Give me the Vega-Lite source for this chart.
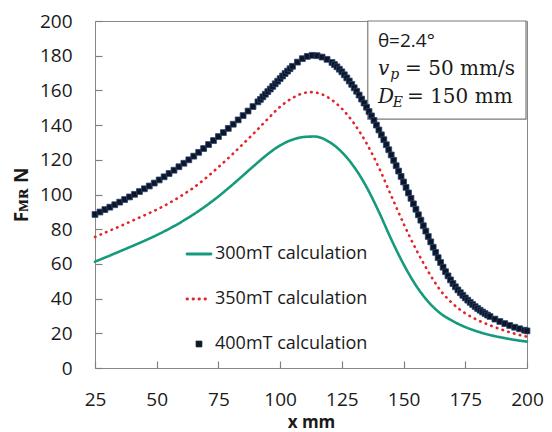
{
  "$schema": "https://vega.github.io/schema/vega-lite/v6.json",
  "width": 432,
  "height": 347,
  "autosize": "none",
  "padding": {"left": 95, "top": 21, "right": 25, "bottom": 64},
  "background": "white",
  "config": {
    "view": {"stroke": "#888888", "strokeWidth": 1},
    "axis": {
      "grid": false,
      "ticks": true,
      "domain": false,
      "tickColor": "#808080",
      "tickWidth": 1.2,
      "tickSize": 7,
      "offset": -7,
      "labelFont": "Open Sans",
      "labelFontSize": 19,
      "labelColor": "#1a1a1a",
      "labelOverlap": false,
      "labelFlush": false,
      "labelBound": false,
      "titleFont": "Open Sans",
      "titleFontWeight": "bold",
      "titleColor": "#1a1a1a"
    }
  },
  "datasets": {
    "curves": [
      {"x": 25, "y": 61.3, "s": "300mT calculation"},
      {"x": 30, "y": 64.2, "s": "300mT calculation"},
      {"x": 35, "y": 67.2, "s": "300mT calculation"},
      {"x": 40, "y": 70.2, "s": "300mT calculation"},
      {"x": 45, "y": 73.3, "s": "300mT calculation"},
      {"x": 50, "y": 76.6, "s": "300mT calculation"},
      {"x": 55, "y": 80.2, "s": "300mT calculation"},
      {"x": 60, "y": 84.2, "s": "300mT calculation"},
      {"x": 65, "y": 88.6, "s": "300mT calculation"},
      {"x": 70, "y": 93.5, "s": "300mT calculation"},
      {"x": 75, "y": 98.9, "s": "300mT calculation"},
      {"x": 80, "y": 104.8, "s": "300mT calculation"},
      {"x": 85, "y": 111.0, "s": "300mT calculation"},
      {"x": 90, "y": 117.3, "s": "300mT calculation"},
      {"x": 95, "y": 123.3, "s": "300mT calculation"},
      {"x": 100, "y": 128.3, "s": "300mT calculation"},
      {"x": 105, "y": 131.6, "s": "300mT calculation"},
      {"x": 110, "y": 133.2, "s": "300mT calculation"},
      {"x": 114, "y": 133.4, "s": "300mT calculation"},
      {"x": 120, "y": 130.2, "s": "300mT calculation"},
      {"x": 125, "y": 124.4, "s": "300mT calculation"},
      {"x": 130, "y": 115.8, "s": "300mT calculation"},
      {"x": 135, "y": 104.3, "s": "300mT calculation"},
      {"x": 140, "y": 90.0, "s": "300mT calculation"},
      {"x": 145, "y": 74.2, "s": "300mT calculation"},
      {"x": 150, "y": 59.8, "s": "300mT calculation"},
      {"x": 155, "y": 47.6, "s": "300mT calculation"},
      {"x": 160, "y": 38.2, "s": "300mT calculation"},
      {"x": 165, "y": 31.4, "s": "300mT calculation"},
      {"x": 170, "y": 27.0, "s": "300mT calculation"},
      {"x": 175, "y": 23.6, "s": "300mT calculation"},
      {"x": 180, "y": 21.0, "s": "300mT calculation"},
      {"x": 185, "y": 19.0, "s": "300mT calculation"},
      {"x": 190, "y": 17.5, "s": "300mT calculation"},
      {"x": 195, "y": 16.2, "s": "300mT calculation"},
      {"x": 200, "y": 15.2, "s": "300mT calculation"},
      {"x": 25, "y": 75.5, "s": "350mT calculation"},
      {"x": 30, "y": 78.6, "s": "350mT calculation"},
      {"x": 35, "y": 81.6, "s": "350mT calculation"},
      {"x": 40, "y": 84.8, "s": "350mT calculation"},
      {"x": 45, "y": 88.0, "s": "350mT calculation"},
      {"x": 50, "y": 91.3, "s": "350mT calculation"},
      {"x": 55, "y": 95.0, "s": "350mT calculation"},
      {"x": 60, "y": 99.3, "s": "350mT calculation"},
      {"x": 65, "y": 104.0, "s": "350mT calculation"},
      {"x": 70, "y": 109.6, "s": "350mT calculation"},
      {"x": 75, "y": 115.8, "s": "350mT calculation"},
      {"x": 80, "y": 122.3, "s": "350mT calculation"},
      {"x": 85, "y": 129.2, "s": "350mT calculation"},
      {"x": 90, "y": 136.2, "s": "350mT calculation"},
      {"x": 95, "y": 143.6, "s": "350mT calculation"},
      {"x": 100, "y": 150.6, "s": "350mT calculation"},
      {"x": 105, "y": 155.6, "s": "350mT calculation"},
      {"x": 110, "y": 158.6, "s": "350mT calculation"},
      {"x": 113, "y": 159.0, "s": "350mT calculation"},
      {"x": 115, "y": 158.6, "s": "350mT calculation"},
      {"x": 120, "y": 155.4, "s": "350mT calculation"},
      {"x": 125, "y": 149.5, "s": "350mT calculation"},
      {"x": 130, "y": 140.8, "s": "350mT calculation"},
      {"x": 135, "y": 129.5, "s": "350mT calculation"},
      {"x": 140, "y": 115.5, "s": "350mT calculation"},
      {"x": 145, "y": 99.3, "s": "350mT calculation"},
      {"x": 150, "y": 83.2, "s": "350mT calculation"},
      {"x": 155, "y": 68.5, "s": "350mT calculation"},
      {"x": 160, "y": 55.6, "s": "350mT calculation"},
      {"x": 165, "y": 44.6, "s": "350mT calculation"},
      {"x": 170, "y": 37.0, "s": "350mT calculation"},
      {"x": 175, "y": 31.5, "s": "350mT calculation"},
      {"x": 180, "y": 27.6, "s": "350mT calculation"},
      {"x": 185, "y": 24.6, "s": "350mT calculation"},
      {"x": 190, "y": 22.0, "s": "350mT calculation"},
      {"x": 195, "y": 19.8, "s": "350mT calculation"},
      {"x": 200, "y": 18.0, "s": "350mT calculation"},
      {"x": 25, "y": 88.5, "s": "400mT calculation"},
      {"x": 27, "y": 89.9, "s": "400mT calculation"},
      {"x": 29, "y": 91.3, "s": "400mT calculation"},
      {"x": 31, "y": 92.7, "s": "400mT calculation"},
      {"x": 33, "y": 94.1, "s": "400mT calculation"},
      {"x": 35, "y": 95.6, "s": "400mT calculation"},
      {"x": 37, "y": 97.1, "s": "400mT calculation"},
      {"x": 39, "y": 98.6, "s": "400mT calculation"},
      {"x": 41, "y": 100.1, "s": "400mT calculation"},
      {"x": 43, "y": 101.7, "s": "400mT calculation"},
      {"x": 45, "y": 103.3, "s": "400mT calculation"},
      {"x": 47, "y": 104.9, "s": "400mT calculation"},
      {"x": 49, "y": 106.6, "s": "400mT calculation"},
      {"x": 51, "y": 108.4, "s": "400mT calculation"},
      {"x": 53, "y": 110.2, "s": "400mT calculation"},
      {"x": 55, "y": 112.1, "s": "400mT calculation"},
      {"x": 57, "y": 114.0, "s": "400mT calculation"},
      {"x": 59, "y": 116.0, "s": "400mT calculation"},
      {"x": 61, "y": 118.0, "s": "400mT calculation"},
      {"x": 63, "y": 120.0, "s": "400mT calculation"},
      {"x": 65, "y": 122.1, "s": "400mT calculation"},
      {"x": 67, "y": 124.3, "s": "400mT calculation"},
      {"x": 69, "y": 126.5, "s": "400mT calculation"},
      {"x": 71, "y": 128.8, "s": "400mT calculation"},
      {"x": 73, "y": 131.1, "s": "400mT calculation"},
      {"x": 75, "y": 133.4, "s": "400mT calculation"},
      {"x": 77, "y": 135.7, "s": "400mT calculation"},
      {"x": 79, "y": 138.1, "s": "400mT calculation"},
      {"x": 81, "y": 140.5, "s": "400mT calculation"},
      {"x": 83, "y": 143.0, "s": "400mT calculation"},
      {"x": 85, "y": 145.5, "s": "400mT calculation"},
      {"x": 87, "y": 148.1, "s": "400mT calculation"},
      {"x": 89, "y": 150.7, "s": "400mT calculation"},
      {"x": 91, "y": 153.4, "s": "400mT calculation"},
      {"x": 92, "y": 154.8, "s": "400mT calculation"},
      {"x": 93, "y": 156.3, "s": "400mT calculation"},
      {"x": 94, "y": 157.8, "s": "400mT calculation"},
      {"x": 95, "y": 159.3, "s": "400mT calculation"},
      {"x": 96, "y": 160.8, "s": "400mT calculation"},
      {"x": 97, "y": 162.3, "s": "400mT calculation"},
      {"x": 98, "y": 163.8, "s": "400mT calculation"},
      {"x": 99, "y": 165.3, "s": "400mT calculation"},
      {"x": 100, "y": 166.8, "s": "400mT calculation"},
      {"x": 101, "y": 168.3, "s": "400mT calculation"},
      {"x": 102, "y": 169.7, "s": "400mT calculation"},
      {"x": 103, "y": 171.1, "s": "400mT calculation"},
      {"x": 104, "y": 172.5, "s": "400mT calculation"},
      {"x": 105, "y": 173.9, "s": "400mT calculation"},
      {"x": 107, "y": 176.3, "s": "400mT calculation"},
      {"x": 109, "y": 178.3, "s": "400mT calculation"},
      {"x": 111, "y": 179.6, "s": "400mT calculation"},
      {"x": 113, "y": 180.2, "s": "400mT calculation"},
      {"x": 115, "y": 180.0, "s": "400mT calculation"},
      {"x": 117, "y": 179.2, "s": "400mT calculation"},
      {"x": 119, "y": 177.9, "s": "400mT calculation"},
      {"x": 121, "y": 176.1, "s": "400mT calculation"},
      {"x": 122, "y": 174.9, "s": "400mT calculation"},
      {"x": 123, "y": 173.6, "s": "400mT calculation"},
      {"x": 124, "y": 172.2, "s": "400mT calculation"},
      {"x": 125, "y": 170.7, "s": "400mT calculation"},
      {"x": 126, "y": 169.0, "s": "400mT calculation"},
      {"x": 127, "y": 167.2, "s": "400mT calculation"},
      {"x": 128, "y": 165.4, "s": "400mT calculation"},
      {"x": 129, "y": 163.5, "s": "400mT calculation"},
      {"x": 130, "y": 161.5, "s": "400mT calculation"},
      {"x": 131, "y": 159.5, "s": "400mT calculation"},
      {"x": 132, "y": 157.3, "s": "400mT calculation"},
      {"x": 133, "y": 155.0, "s": "400mT calculation"},
      {"x": 134, "y": 152.7, "s": "400mT calculation"},
      {"x": 135, "y": 150.3, "s": "400mT calculation"},
      {"x": 136, "y": 147.8, "s": "400mT calculation"},
      {"x": 137, "y": 145.3, "s": "400mT calculation"},
      {"x": 138, "y": 142.7, "s": "400mT calculation"},
      {"x": 139, "y": 140.0, "s": "400mT calculation"},
      {"x": 140, "y": 137.2, "s": "400mT calculation"},
      {"x": 141, "y": 134.4, "s": "400mT calculation"},
      {"x": 142, "y": 131.6, "s": "400mT calculation"},
      {"x": 143, "y": 128.7, "s": "400mT calculation"},
      {"x": 144, "y": 125.8, "s": "400mT calculation"},
      {"x": 145, "y": 122.8, "s": "400mT calculation"},
      {"x": 146, "y": 119.7, "s": "400mT calculation"},
      {"x": 147, "y": 116.6, "s": "400mT calculation"},
      {"x": 148, "y": 113.5, "s": "400mT calculation"},
      {"x": 149, "y": 110.4, "s": "400mT calculation"},
      {"x": 150, "y": 107.2, "s": "400mT calculation"},
      {"x": 151, "y": 104.1, "s": "400mT calculation"},
      {"x": 152, "y": 100.9, "s": "400mT calculation"},
      {"x": 153, "y": 97.8, "s": "400mT calculation"},
      {"x": 154, "y": 94.6, "s": "400mT calculation"},
      {"x": 155, "y": 91.5, "s": "400mT calculation"},
      {"x": 156, "y": 88.3, "s": "400mT calculation"},
      {"x": 157, "y": 85.2, "s": "400mT calculation"},
      {"x": 158, "y": 82.0, "s": "400mT calculation"},
      {"x": 159, "y": 78.9, "s": "400mT calculation"},
      {"x": 160, "y": 75.8, "s": "400mT calculation"},
      {"x": 161, "y": 72.7, "s": "400mT calculation"},
      {"x": 162, "y": 69.6, "s": "400mT calculation"},
      {"x": 163, "y": 66.6, "s": "400mT calculation"},
      {"x": 164, "y": 63.6, "s": "400mT calculation"},
      {"x": 165, "y": 60.8, "s": "400mT calculation"},
      {"x": 166, "y": 58.1, "s": "400mT calculation"},
      {"x": 167, "y": 55.5, "s": "400mT calculation"},
      {"x": 168, "y": 53.1, "s": "400mT calculation"},
      {"x": 169, "y": 50.8, "s": "400mT calculation"},
      {"x": 170, "y": 48.7, "s": "400mT calculation"},
      {"x": 171, "y": 46.8, "s": "400mT calculation"},
      {"x": 172, "y": 45.0, "s": "400mT calculation"},
      {"x": 173, "y": 43.4, "s": "400mT calculation"},
      {"x": 174, "y": 41.9, "s": "400mT calculation"},
      {"x": 175, "y": 40.4, "s": "400mT calculation"},
      {"x": 176, "y": 39.1, "s": "400mT calculation"},
      {"x": 177, "y": 37.8, "s": "400mT calculation"},
      {"x": 178, "y": 36.6, "s": "400mT calculation"},
      {"x": 179, "y": 35.4, "s": "400mT calculation"},
      {"x": 180, "y": 34.3, "s": "400mT calculation"},
      {"x": 181, "y": 33.3, "s": "400mT calculation"},
      {"x": 182, "y": 32.3, "s": "400mT calculation"},
      {"x": 183, "y": 31.4, "s": "400mT calculation"},
      {"x": 184, "y": 30.5, "s": "400mT calculation"},
      {"x": 185, "y": 29.7, "s": "400mT calculation"},
      {"x": 187, "y": 28.2, "s": "400mT calculation"},
      {"x": 189, "y": 26.8, "s": "400mT calculation"},
      {"x": 191, "y": 25.6, "s": "400mT calculation"},
      {"x": 193, "y": 24.5, "s": "400mT calculation"},
      {"x": 195, "y": 23.5, "s": "400mT calculation"},
      {"x": 197, "y": 22.6, "s": "400mT calculation"},
      {"x": 199, "y": 21.8, "s": "400mT calculation"},
      {"x": 200, "y": 21.4, "s": "400mT calculation"}
    ]
  },
  "encoding": {
    "x": {"field": "x", "type": "quantitative", "scale": {"domain": [25, 200], "nice": false, "zero": false},
      "axis": {"values": [25, 50, 75, 100, 125, 150, 175, 200], "labelOverlap": false, "labelPadding": 22, "title": "x mm", "titleFontSize": 17, "titlePadding": 5}},
    "y": {"field": "y", "type": "quantitative", "scale": {"domain": [0, 200], "nice": false},
      "axis": {"values": [0, 20, 40, 60, 80, 100, 120, 140, 160, 180, 200], "labelOverlap": false, "labelPadding": 23, "title": "Fᴍʀ N", "titleFontSize": 19, "titlePadding": 8}}
  },
  "layer": [
    {
      "data": {"values": [{"x": 135.5, "x2": 199.6, "y": 200, "y2": 143.5}]},
      "mark": {"type": "rect", "fill": "white", "stroke": "#7a7a7a", "strokeWidth": 1.2},
      "encoding": {
        "x2": {"field": "x2"},
        "y2": {"field": "y2"}
      }
    },
    {
      "data": {"name": "curves"},
      "transform": [{"filter": "datum.s !== '400mT calculation'"}],
      "mark": {"type": "line", "strokeWidth": 2.6, "strokeCap": "round", "interpolate": "monotone"},
      "encoding": {
        "color": {
          "field": "s", "type": "nominal",
          "scale": {"domain": ["300mT calculation", "350mT calculation", "400mT calculation"], "range": ["#169a7c", "#e3242b", "#0d1526"]},
          "legend": {
            "orient": "none", "legendX": 95, "legendY": 224, "title": null,
            "labelFont": "Open Sans", "labelFontSize": 18, "labelColor": "#1a1a1a",
            "rowPadding": 27, "symbolSize": 576, "labelOffset": 7, "padding": 0,
            "encode": {
              "symbols": {
                "update": {
                  "shape": {"signal": "datum.value === '400mT calculation' ? 'square' : 'stroke'"},
                  "size": {"signal": "datum.value === '400mT calculation' ? 30 : 576"},
                  "strokeDash": {"signal": "datum.value === '350mT calculation' ? [0.5, 5.5] : [1, 0]"},
                  "strokeWidth": {"signal": "datum.value === '400mT calculation' ? 0.8 : 2.8"},
                  "strokeCap": {"value": "round"},
                  "fill": {"signal": "datum.value === '400mT calculation' ? '#0d1526' : 'transparent'"},
                  "fillOpacity": {"value": 1},
                  "opacity": {"value": 1},
                  "stroke": {"signal": "datum.value === '300mT calculation' ? '#169a7c' : datum.value === '350mT calculation' ? '#e3242b' : '#2a4470'"}
                }
              }
            }
          }
        },
        "strokeDash": {
          "field": "s", "type": "nominal",
          "scale": {"domain": ["300mT calculation", "350mT calculation"], "range": [[1, 0], [0.5, 5.5]]},
          "legend": null
        }
      }
    },
    {
      "data": {"name": "curves"},
      "transform": [{"filter": "datum.s === '400mT calculation'"}],
      "mark": {"type": "point", "shape": "square", "filled": true, "size": 34, "opacity": 1, "stroke": "#2a4470", "strokeWidth": 0.8},
      "encoding": {
        "color": {"field": "s", "type": "nominal"}
      }
    },
    {
      "data": {"values": [{"x": 139.6, "y": 185.2, "t": "θ=2.4°"}]},
      "mark": {"type": "text", "font": "Open Sans", "fontSize": 19, "align": "left", "baseline": "alphabetic", "color": "#1a1a1a"},
      "encoding": {"text": {"field": "t"}}
    },
    {
      "data": {"values": [{"x": 139.6, "y": 168.9, "t": "v"}, {"x": 139.6, "y": 152.6, "t": "D"}]},
      "mark": {"type": "text", "font": "DejaVu Serif", "fontStyle": "italic", "fontSize": 20, "align": "left", "baseline": "alphabetic", "color": "#1a1a1a"},
      "encoding": {"text": {"field": "t"}}
    },
    {
      "data": {"values": [{"x": 144.6, "y": 166.6, "t": "p"}, {"x": 145.6, "y": 150.4, "t": "E"}]},
      "mark": {"type": "text", "font": "DejaVu Serif", "fontStyle": "italic", "fontSize": 14, "align": "left", "baseline": "alphabetic", "color": "#1a1a1a"},
      "encoding": {"text": {"field": "t"}}
    },
    {
      "data": {"values": [{"x": 150.6, "y": 168.9, "t": "= 50 mm/s"}, {"x": 151.4, "y": 152.6, "t": "= 150 mm"}]},
      "mark": {"type": "text", "font": "DejaVu Serif", "fontSize": 20, "align": "left", "baseline": "alphabetic", "color": "#1a1a1a"},
      "encoding": {"text": {"field": "t"}}
    }
  ]
}
